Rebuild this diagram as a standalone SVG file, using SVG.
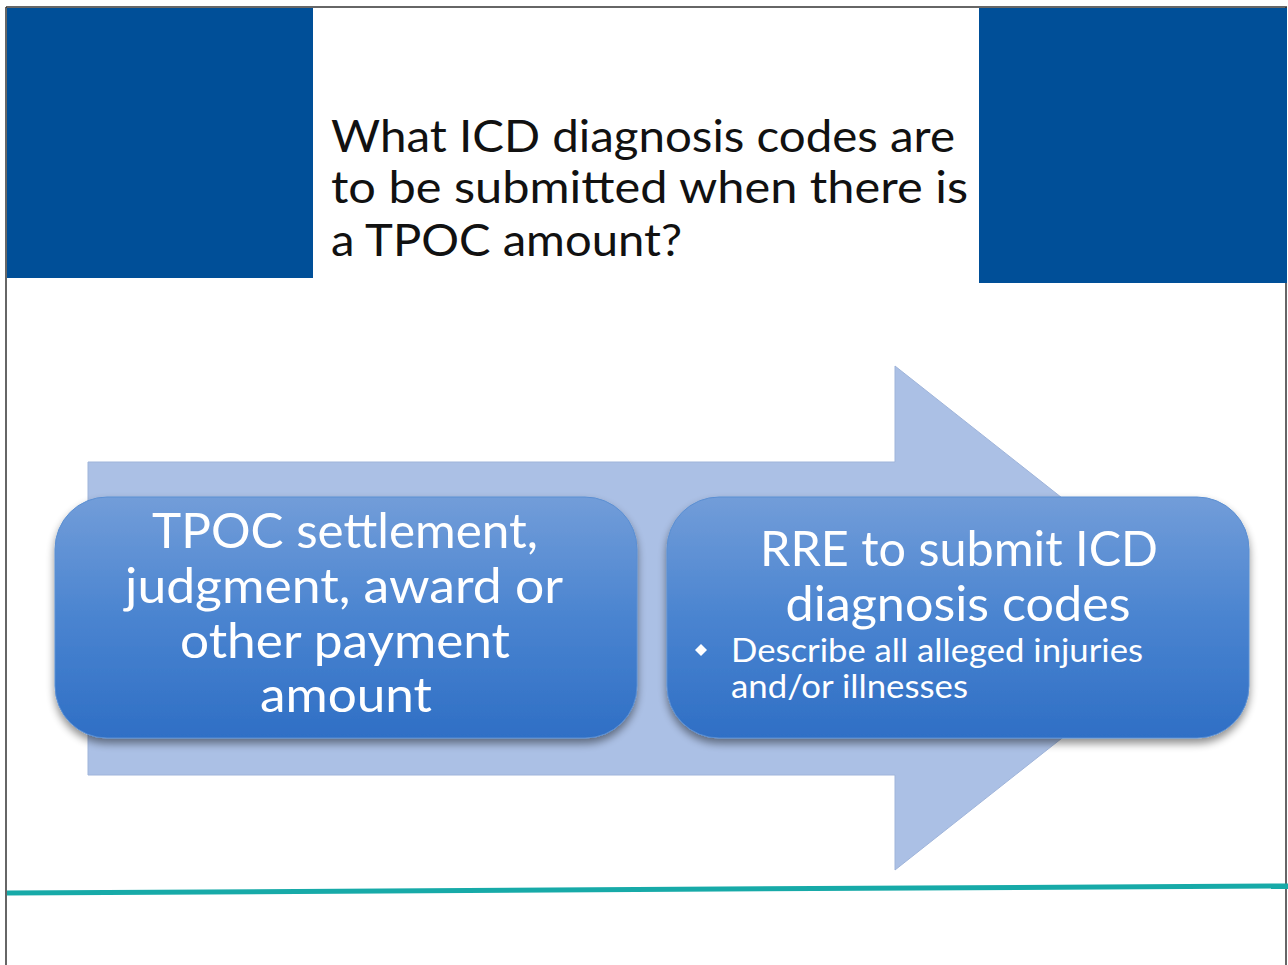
<svg xmlns="http://www.w3.org/2000/svg" width="1288" height="965" viewBox="0 0 1288 965">
<defs>
<linearGradient id="boxg" x1="0" y1="0" x2="0" y2="1">
<stop offset="0" stop-color="#729dd9"/>
<stop offset="0.5" stop-color="#4a84d0"/>
<stop offset="1" stop-color="#2f6fc5"/>
</linearGradient>
<filter id="sh" x="-10%" y="-10%" width="120%" height="130%">
<feGaussianBlur in="SourceAlpha" stdDeviation="4"/>
<feOffset dx="0" dy="5" result="b"/>
<feComponentTransfer><feFuncA type="linear" slope="0.45"/></feComponentTransfer>
<feMerge><feMergeNode/><feMergeNode in="SourceGraphic"/></feMerge>
</filter>
</defs>
<style>
.band{fill:#004f98}
.title{font-family:Lato,"Open Sans","Liberation Sans",sans-serif;font-size:44px;fill:#111}
.box{fill:url(#boxg);stroke:#5b8fd2;stroke-width:1}
.big{font-family:Lato,"Open Sans","Liberation Sans",sans-serif;font-size:48px;fill:#fff;text-anchor:middle}
.small{font-family:Lato,"Open Sans","Liberation Sans",sans-serif;font-size:32px;fill:#fff}
</style>
<rect x="0" y="0" width="1288" height="965" fill="#fff"/>
<g id="frame" fill="none" stroke="#333" stroke-width="1.5">
<line x1="6" y1="7" x2="1287" y2="7"/>
<line x1="6" y1="7" x2="6" y2="965"/>
<line x1="1286" y1="7" x2="1286" y2="965"/>
</g>
<g id="header">
<rect class="band" x="7" y="8" width="306" height="270"/>
<rect class="band" x="979" y="8" width="308" height="275"/>
<text class="title" x="331" y="152" textLength="624" lengthAdjust="spacingAndGlyphs">What ICD diagnosis codes are</text>
<text class="title" x="331" y="203" textLength="637" lengthAdjust="spacingAndGlyphs">to be submitted when there is</text>
<text class="title" x="331" y="256" textLength="351" lengthAdjust="spacingAndGlyphs">a TPOC amount?</text>
</g>
<g id="connectors">
<polygon points="88,462 895,462 895,366 1214,618 895,870 895,775 88,775" fill="#abc0e5" stroke="#9fb4da" stroke-width="1"/>
</g>
<g id="node-tpoc">
<rect class="box" x="55" y="497" width="582" height="241" rx="52" filter="url(#sh)"/>
<text class="big" x="345" y="548" textLength="386" lengthAdjust="spacingAndGlyphs">TPOC settlement,</text>
<text class="big" x="344" y="603" textLength="438" lengthAdjust="spacingAndGlyphs">judgment, award or</text>
<text class="big" x="345" y="658" textLength="330" lengthAdjust="spacingAndGlyphs">other payment</text>
<text class="big" x="346" y="712" textLength="172" lengthAdjust="spacingAndGlyphs">amount</text>
</g>
<g id="node-rre">
<rect class="box" x="667" y="497" width="582" height="241" rx="52" filter="url(#sh)"/>
<text class="big" x="959" y="566" textLength="398" lengthAdjust="spacingAndGlyphs">RRE to submit ICD</text>
<text class="big" x="958" y="621" textLength="345" lengthAdjust="spacingAndGlyphs">diagnosis codes</text>
<polygon points="701,644 707,650 701,656 695,650" fill="#fff"/>
<text class="small" x="731" y="662" textLength="412" lengthAdjust="spacingAndGlyphs">Describe all alleged injuries</text>
<text class="small" x="731" y="698" textLength="237" lengthAdjust="spacingAndGlyphs">and/or illnesses</text>
</g>
<g id="footer">
<line x1="7" y1="893" x2="1288" y2="886" stroke="#17aaa8" stroke-width="5"/>
</g>
</svg>
